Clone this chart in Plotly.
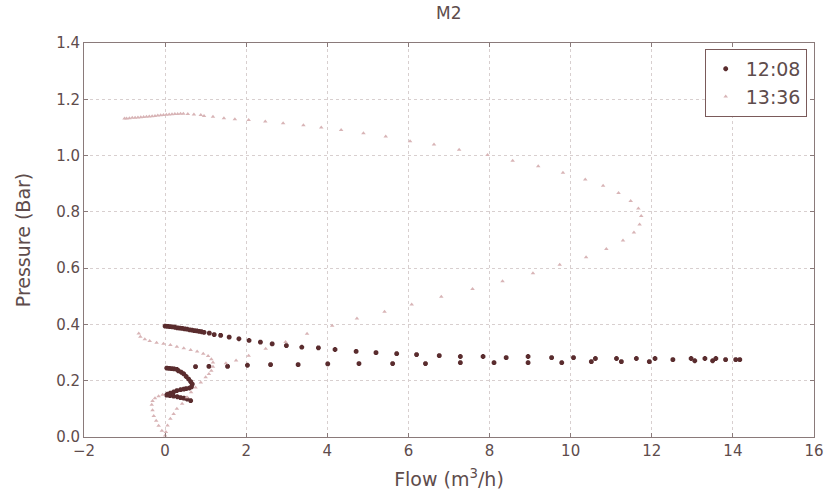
import plotly.graph_objects as go

# ---- 12:08 series (dark, '*') ----
flow_1208 = [
    # N-shaped start cluster
    0.04, 0.10, 0.16, 0.22, 0.29, 0.33, 0.40, 0.46, 0.52, 0.58, 0.63, 0.67, 0.65, 0.60, 0.52, 0.46, 0.38,
    0.29, 0.21, 0.13, 0.06, 0.04, 0.12, 0.21, 0.30, 0.38, 0.46, 0.54, 0.63,
    # lower branch
    0.75, 1.08, 1.54, 2.03, 2.60, 3.28, 4.01, 4.78, 5.61, 6.42, 7.28, 8.11, 8.95, 9.78, 10.51, 11.25,
    11.94, 13.06, 13.50,
    # upper branch
    0.00, 0.06, 0.12, 0.18, 0.24, 0.30, 0.36, 0.42, 0.48, 0.54, 0.60, 0.66, 0.72, 0.78, 0.84, 0.90,
    0.96, 1.09, 1.21, 1.37, 1.58, 1.82, 2.07, 2.35, 2.64, 2.99, 3.37, 3.78, 4.19, 4.71, 5.20, 5.71,
    6.20, 6.76, 7.28, 7.84, 8.41, 8.95, 9.53, 10.07, 10.61, 11.13, 11.62, 12.08, 12.52, 12.97, 13.31,
    13.58, 13.82, 14.07, 14.17,
]
pressure_1208 = [
    0.245, 0.244, 0.243, 0.242, 0.240, 0.235, 0.230, 0.224, 0.215, 0.206, 0.197, 0.188, 0.178, 0.174,
    0.172, 0.170, 0.168, 0.165, 0.160, 0.156, 0.152, 0.149, 0.147, 0.145, 0.143, 0.140, 0.138, 0.135,
    0.129,
    0.250, 0.251, 0.251, 0.255, 0.257, 0.257, 0.260, 0.261, 0.261, 0.261, 0.264, 0.264, 0.264, 0.264,
    0.268, 0.268, 0.268, 0.271, 0.271,
    0.394, 0.393, 0.392, 0.391, 0.390, 0.388, 0.387, 0.386, 0.384, 0.383, 0.381, 0.380, 0.378, 0.377,
    0.375, 0.374, 0.372, 0.369, 0.364, 0.361, 0.355, 0.349, 0.343, 0.337, 0.331, 0.325, 0.319, 0.317,
    0.311, 0.304, 0.300, 0.296, 0.293, 0.289, 0.286, 0.286, 0.282, 0.286, 0.282, 0.282, 0.279, 0.279,
    0.279, 0.279, 0.275, 0.279, 0.279, 0.279, 0.275, 0.275, 0.275,
]

# ---- 13:36 series (light, '^') ----
flow_1336 = [
    # left part of lower loop
    0.00, -0.08, -0.16, -0.22, -0.28, -0.31, -0.33, -0.31, -0.25, -0.16, -0.06,
    # rising right curve from origin to the lower loop's right edge
    0.02, 0.06, 0.13, 0.21, 0.29, 0.42, 0.54, 0.64, 0.75, 0.88, 1.00, 1.08, 1.14, 1.18, 1.18,
    # loop top going back left
    1.14, 1.06, 0.94, 0.79, 0.63, 0.46, 0.29, 0.13, -0.04, -0.21, -0.38, -0.50, -0.61, -0.65,
    # branch toward the big C
    1.50, 1.75, 2.06, 2.48, 2.97, 3.50, 4.12, 4.73, 5.41, 6.08, 6.81, 7.58, 8.32, 9.07, 9.73, 10.38,
    10.88, 11.29, 11.56, 11.70, 11.74, 11.67, 11.48, 11.18, 10.80, 10.36, 9.81, 9.20, 8.57, 7.95,
    7.25, 6.63, 6.04, 5.44, 4.89, 4.34, 3.85, 3.41, 2.91, 2.47, 2.06, 1.72, 1.45, 1.18, 0.96, 0.88,
    0.71, 0.56,
    # dense top-left end
    0.45, 0.38, 0.31, 0.24, 0.17, 0.10, 0.03, -0.04, -0.11, -0.18, -0.25, -0.32, -0.39, -0.46,
    -0.53, -0.60, -0.67, -0.74, -0.81, -0.88, -0.95, -1.00,
]
pressure_1336 = [
    0.005, 0.022, 0.040, 0.058, 0.075, 0.095, 0.115, 0.128, 0.138, 0.145, 0.150,
    0.018, 0.041, 0.065, 0.082, 0.100, 0.118, 0.141, 0.159, 0.176, 0.194, 0.212, 0.224, 0.235, 0.250,
    0.265,
    0.276, 0.288, 0.296, 0.304, 0.309, 0.315, 0.321, 0.327, 0.331, 0.335, 0.341, 0.347, 0.356, 0.368,
    0.262, 0.272, 0.289, 0.314, 0.338, 0.367, 0.395, 0.421, 0.445, 0.471, 0.498, 0.526, 0.553, 0.582,
    0.612, 0.639, 0.668, 0.698, 0.727, 0.755, 0.785, 0.812, 0.839, 0.867, 0.893, 0.915, 0.939, 0.962,
    0.982, 1.002, 1.021, 1.039, 1.051, 1.068, 1.079, 1.091, 1.100, 1.108, 1.115, 1.121, 1.126, 1.129,
    1.133, 1.138, 1.141, 1.144, 1.146, 1.148,
    1.149, 1.149, 1.148, 1.148, 1.147, 1.146, 1.145, 1.144, 1.143, 1.142, 1.141, 1.140, 1.139, 1.138,
    1.137, 1.136, 1.135, 1.134, 1.134, 1.133, 1.132, 1.132,
]

x_ticks = [-2, 0, 2, 4, 6, 8, 10, 12, 14, 16]
y_ticks = [0.0, 0.2, 0.4, 0.6, 0.8, 1.0, 1.2, 1.4]
y_tick_labels = ["0.0", "0.2", "0.4", "0.6", "0.8", "1.0", "1.2", "1.4"]

TEXT = "#5e4c4c"
FONT = "DejaVu Sans, Liberation Sans, sans-serif"

fig = go.Figure()
fig.add_trace(go.Scatter(
    x=flow_1208, y=pressure_1208, mode="markers", name="12:08",
    marker=dict(symbol="asterisk-open", size=4, color="#5a2c2e",
                line=dict(width=1.8, color="#5a2c2e")),
))
fig.add_trace(go.Scatter(
    x=flow_1336, y=pressure_1336, mode="markers", name="13:36",
    marker=dict(symbol="triangle-up", size=4, color="#d8b4b6"),
))

axis_common = dict(
    showline=True, linecolor="#8a7a7a", linewidth=1, mirror="ticks",
    ticks="inside", ticklen=4, tickcolor="#8a7a7a",
    showgrid=True, gridcolor="#d8cfcf", griddash="dot", gridwidth=1,
    zeroline=False, automargin=False,
    tickfont=dict(size=15, color=TEXT, family=FONT),
)

fig.update_layout(
    width=825, height=493,
    margin=dict(l=84, r=11, t=43, b=56),
    paper_bgcolor="white", plot_bgcolor="white",
    title=dict(text="M2", x=0.544, xanchor="center", y=0.985, yanchor="top",
               font=dict(size=17, color=TEXT, family=FONT)),
    xaxis=dict(range=[-2, 16], tickvals=x_ticks,
               title=dict(text="Flow (m<sup>3</sup>/h)", font=dict(size=19, color=TEXT, family=FONT),
                          standoff=13),
               **axis_common),
    yaxis=dict(range=[0, 1.4], tickvals=y_ticks, ticktext=y_tick_labels,
               title=dict(text="Pressure (Bar)", font=dict(size=19, color=TEXT, family=FONT),
                          standoff=20),
               **axis_common),
    legend=dict(x=0.990, xanchor="right", y=0.985, yanchor="top",
                bgcolor="white", bordercolor="#7a5a5a", borderwidth=1,
                font=dict(size=19, color=TEXT, family=FONT),
                itemwidth=30, tracegroupgap=0),
    showlegend=True,
)

# remove the page's default body margin so the 825x493 figure fills the window exactly
fig.write_html(
    "out.html",
    config={"displayModeBar": False},
    post_script="document.body.style.margin='0';document.body.style.overflow='hidden';",
)
